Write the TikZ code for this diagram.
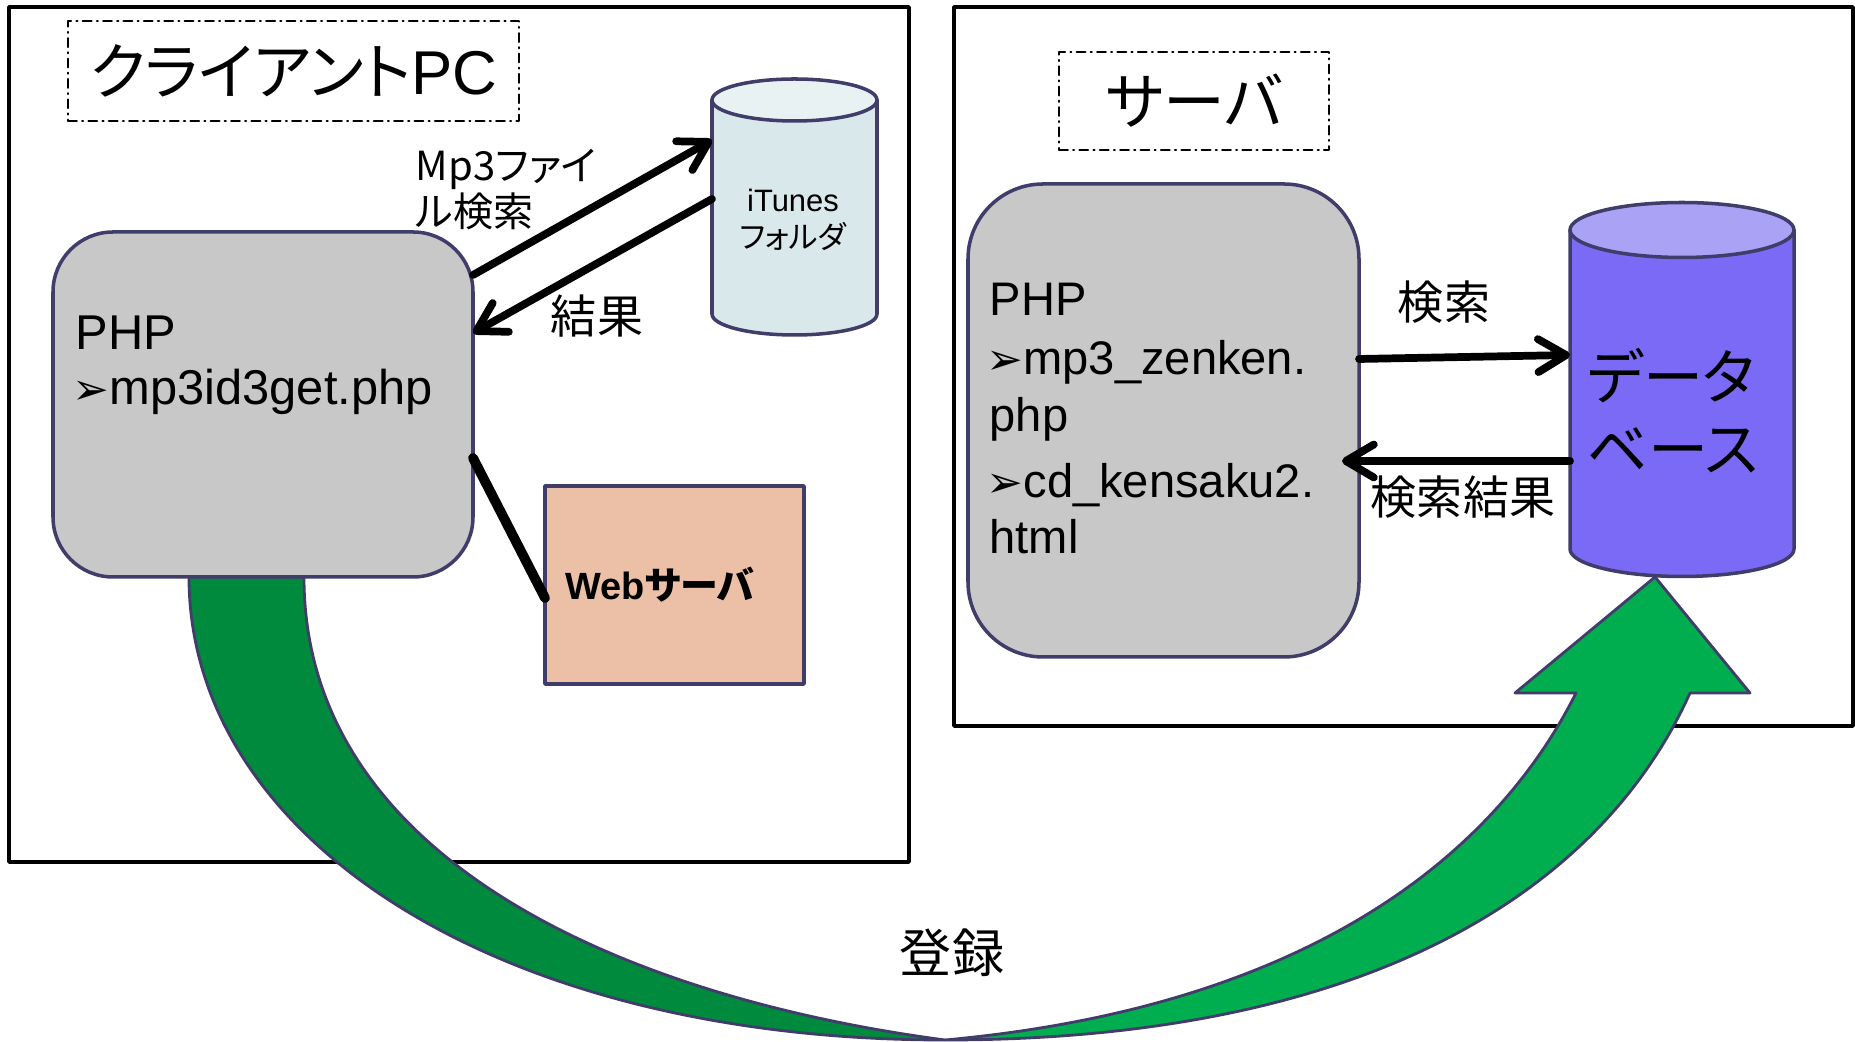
\documentclass[tikz,border=0pt]{standalone}
\usepackage{fontspec}
\setmainfont{Liberation Sans}
\newfontfamily\jp[RawFeature=+palt]{Noto Sans CJK JP}
\newfontfamily\dingbat{DejaVu Sans}
\usetikzlibrary{arrows.meta}
\definecolor{cccccc}{rgb}{0.784,0.784,0.784}
\definecolor{qqqqtt}{rgb}{0.251,0.239,0.42}
\definecolor{ddeeee}{rgb}{0.851,0.91,0.918}
\definecolor{eeffff}{rgb}{0.91,0.95,0.953}
\definecolor{eebbaa}{rgb}{0.922,0.753,0.655}
\definecolor{ttttff}{rgb}{0.478,0.416,0.965}
\definecolor{aaaaff}{rgb}{0.667,0.635,0.961}
\definecolor{qqaaqq}{rgb}{0.,0.541,0.243}
\definecolor{qqccqq}{rgb}{0.,0.682,0.31}
\newcommand{\pmark}{{\dingbat\fontsize{12.5}{13}\selectfont ➢}}

\begin{document}
\begin{tikzpicture}[line cap=round,line join=round,>={Straight Barb[length=2.8mm,width=3.3mm,round]},x=1.0cm,y=1.0cm,
    titlebox/.style={draw,line width=0.6pt,dash pattern=on 2.5pt off 1.5pt on 0.3pt off 1.5pt,inner sep=0pt,font=\fontsize{17.6}{20}\selectfont},
    phpbox/.style={draw=qqqqtt,fill=cccccc,line width=1.pt,outer sep=0pt},
    phptext/.style={anchor=base west,inner sep=0pt},
    lbl/.style={inner sep=0pt,font=\jp\fontsize{13.1}{15}\selectfont},
    conn/.style={line width=2.2pt}]
      \useasboundingbox (0.,0.) rectangle (18.55,10.42);
      \clip(0.,0.) rectangle (18.55,10.42);
      \draw [line width=1.pt] (0.09,10.35) rectangle (9.09,1.80);
      \draw [line width=1.pt] (9.54,10.35) rectangle (18.53,3.16);
      % registration band
      \filldraw [fill=qqaaqq,draw=qqqqtt,line width=0.8pt] (1.89,4.65) .. controls (1.89,2.05) and (4.95,0.02) .. (9.45,0.02) .. controls (6.2,0.45) and (3.04,1.85) .. (3.04,4.65) -- cycle;
      \filldraw [fill=qqccqq,draw=qqqqtt,line width=0.8pt] (9.45,0.02) .. controls (13.65,0.02) and (16.,1.49) .. (16.9,3.49) -- (17.5,3.49) -- (16.55,4.65) -- (15.15,3.49) -- (15.76,3.49) .. controls (15.16,2.29) and (13.6,0.4) .. (9.45,0.02) -- cycle;
      \node [lbl,font=\jp\fontsize{14.8}{16}\selectfont] (reg) at (9.52,0.89) {登録};
      % client pc
      \node [titlebox,minimum width=4.51cm,minimum height=1.cm] (cltitle) at (2.935,9.71) {{\jp クライアント}PC};
      \node [phpbox,minimum width=4.2cm,minimum height=3.45cm,rounded corners=0.6cm] (cphp) at (2.63,6.375) {};
      \node [phptext,font=\fontsize{13.9}{16}\selectfont] (cphpa) at (0.75,6.92) {PHP};
      \node [phptext,font=\fontsize{13.9}{16}\selectfont] (cphpb) at (0.72,6.37) {\pmark mp3id3get.php};
      \fill [color=ddeeee] (7.12,9.42) -- (7.12,7.28) arc (180:360:0.825 and 0.21) -- (8.77,9.42) -- cycle;
      \draw [color=qqqqtt,line width=1.pt] (7.12,9.42) -- (7.12,7.28) arc (180:360:0.825 and 0.21) -- (8.77,9.42);
      \filldraw [fill=eeffff,draw=qqqqtt,line width=1.pt] (7.945,9.42) ellipse (0.825 and 0.21);
      \node [minimum width=1.65cm,minimum height=2.56cm,outer sep=0pt] (itunes) at (7.945,8.35) {};
      \node [align=center,font=\fontsize{8.8}{10.5}\selectfont] (itunestext) at (7.93,8.22) {iTunes\\{\jp フォルダ}};
      \node [draw=qqqqtt,fill=eebbaa,line width=1.pt,minimum width=2.59cm,minimum height=1.98cm,text width=2.19cm,align=left,outer sep=0pt,font=\bfseries\fontsize{10.8}{13}\selectfont] (web) at (6.745,4.57) {Web{\jp サーバ}};
      \node [lbl,anchor=west,align=left,font=\jp\fontsize{11.4}{13.1}\selectfont] (lblmp3) at (4.15,8.52) {Mp3ファイ\\ル検索};
      \node [lbl] (lblres) at (5.97,7.26) {結果};
      \draw [conn,->] ([yshift=1.295cm]cphp.east) -- ([yshift=0.67cm]itunes.west);
      \draw [conn,->] ([yshift=0.08cm]itunes.west) -- ([yshift=0.715cm]cphp.east);
      \draw [line width=2.8pt] ([yshift=-0.535cm]cphp.east) -- ([yshift=-0.13cm]web.west);
      % server
      \node [titlebox,minimum width=2.7cm,minimum height=0.98cm] (svtitle) at (11.94,9.41) {\jp サーバ};
      \node [phpbox,minimum width=3.91cm,minimum height=4.73cm,rounded corners=0.75cm] (sphp) at (11.635,6.215) {};
      \node [phptext,font=\fontsize{13.4}{16}\selectfont] (sphpa) at (9.89,7.26) {PHP};
      \node [phptext,font=\fontsize{13.4}{16}\selectfont] (sphpb) at (9.86,6.67) {\pmark mp3\_zenken.};
      \node [phptext,font=\fontsize{13.4}{16}\selectfont] (sphpc) at (9.89,6.1) {php};
      \node [phptext,font=\fontsize{13.4}{16}\selectfont] (sphpd) at (9.86,5.44) {\pmark cd\_kensaku2.};
      \node [phptext,font=\fontsize{13.4}{16}\selectfont] (sphpe) at (9.89,4.88) {html};
      \fill [color=ttttff] (15.7,8.12) -- (15.7,4.93) arc (180:360:1.12 and 0.275) -- (17.94,8.12) -- cycle;
      \draw [color=qqqqtt,line width=1.pt] (15.7,8.12) -- (15.7,4.93) arc (180:360:1.12 and 0.275) -- (17.94,8.12);
      \filldraw [fill=aaaaff,draw=qqqqtt,line width=1.pt] (16.82,8.12) ellipse (1.12 and 0.275);
      \node [minimum width=2.24cm,minimum height=3.73cm,outer sep=0pt] (db) at (16.82,6.525) {};
      \node [align=left,font=\jp\fontsize{17.1}{20.5}\selectfont] (dbtext) at (16.73,6.31) {データ\\ベース};
      \node [lbl] (lblq) at (14.44,7.4) {検索};
      \node [lbl] (lblqres) at (14.63,5.45) {検索結果};
      \draw [conn,->] ([yshift=0.615cm]sphp.east) -- ([yshift=0.345cm]db.west);
      \draw [conn,->] ([yshift=-0.715cm]db.west) -- ([xshift=-0.17cm,yshift=-0.405cm]sphp.east);
\end{tikzpicture}
\end{document}
